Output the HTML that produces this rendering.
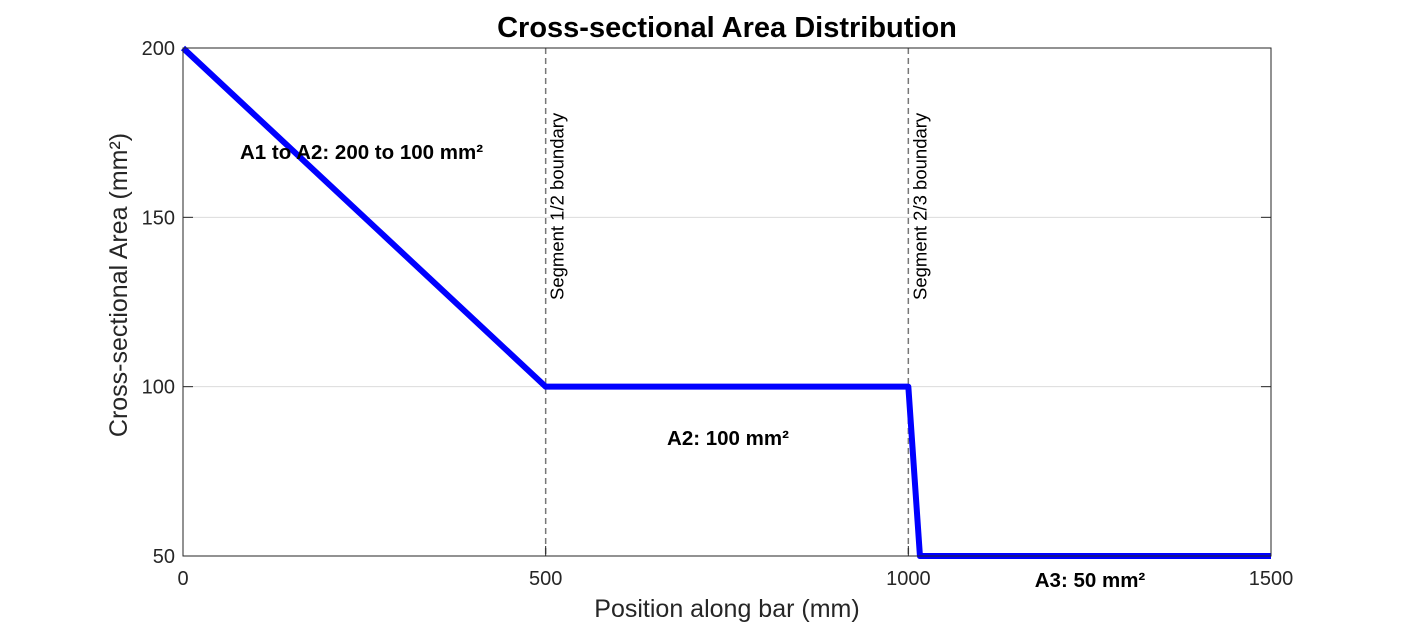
<!DOCTYPE html>
<html><head><meta charset="utf-8"><style>body{margin:0;background:#fff}svg{display:block;font-family:"Liberation Sans",Arial,sans-serif}</style></head>
<body>
<svg id="chart" width="1406" height="625">
<rect width="1406" height="625" fill="#fff"/>
<g id="grid"></g>
<g id="marks"></g>
<g id="axes"></g>
<g id="labels"></g>
</svg>
<script>
const xTicks=[0,500,1000,1500];
const yTicks=[50,100,150,200];
const posX=[0,500,1000,1016,1500];
const areaY=[200,100,100,50,50];
const boundaries=[500,1000];
const boundaryLabels=["Segment 1/2 boundary","Segment 2/3 boundary"];
const L=183,R=1271,T=48,B=556;
const sx=v=>L+(v-0)/(1500-0)*(R-L);
const sy=v=>B-(v-50)/(200-50)*(B-T);
const NS="http://www.w3.org/2000/svg";
function mk(tag,attrs,parent,txt){const e=document.createElementNS(NS,tag);for(const k in attrs)e.setAttribute(k,attrs[k]);if(txt!==undefined)e.textContent=txt;document.getElementById(parent).appendChild(e);return e;}
yTicks.forEach(v=>{const g=mk('line',{x1:L,x2:R,y1:sy(v),y2:sy(v),stroke:'#dcdcdc','stroke-width':1},'grid');

});
boundaries.forEach((b,i)=>{const l=mk('line',{x1:sx(b),x2:sx(b),y1:T,y2:B,stroke:'#777','stroke-width':1.5,'stroke-dasharray':'6,4'},'marks');


const t=mk('text',{x:0,y:0,transform:`translate(${sx(b)+18},300) rotate(-90)`,'font-size':18.5,fill:'#000'},'labels',boundaryLabels[i]);

});
const p=mk('polyline',{points:posX.map((x,i)=>sx(x)+','+sy(areaY[i])).join(' '),fill:'none',stroke:'#0000ff','stroke-width':6,'stroke-linejoin':'round'},'marks');


const box=mk('rect',{x:L,y:T,width:R-L,height:B-T,fill:'none',stroke:'#262626','stroke-width':1},'axes');


xTicks.forEach(v=>{mk('line',{x1:sx(v),x2:sx(v),y1:B,y2:B-10,stroke:'#262626'},'axes');
const t=mk('text',{x:sx(v),y:B+29,'text-anchor':'middle','font-size':20,fill:'#262626'},'axes',v);

});
yTicks.forEach(v=>{mk('line',{x1:L,x2:L+10,y1:sy(v),y2:sy(v),stroke:'#262626'},'axes');
mk('line',{x1:R,x2:R-10,y1:sy(v),y2:sy(v),stroke:'#262626'},'axes');
const t=mk('text',{x:L-8,y:sy(v)+7,'text-anchor':'end','font-size':20,fill:'#262626'},'axes',v);

});
let e;
e=mk('text',{x:727,y:37,'text-anchor':'middle','font-size':29,'font-weight':'bold',fill:'#000'},'labels','Cross-sectional Area Distribution');


e=mk('text',{x:727,y:617,'text-anchor':'middle','font-size':25,fill:'#262626'},'labels','Position along bar (mm)');


e=mk('text',{x:0,y:0,transform:'translate(127,285) rotate(-90)','text-anchor':'middle','font-size':25,fill:'#262626'},'labels','Cross-sectional Area (mm²)');


e=mk('text',{x:240,y:159,'font-size':20.5,'font-weight':'bold',fill:'#000'},'labels','A1 to A2: 200 to 100 mm²');


e=mk('text',{x:728,y:445,'text-anchor':'middle','font-size':20.5,'font-weight':'bold',fill:'#000'},'labels','A2: 100 mm²');


e=mk('text',{x:1090,y:587,'text-anchor':'middle','font-size':20.5,'font-weight':'bold',fill:'#000'},'labels','A3: 50 mm²');


</script>
</body></html>
